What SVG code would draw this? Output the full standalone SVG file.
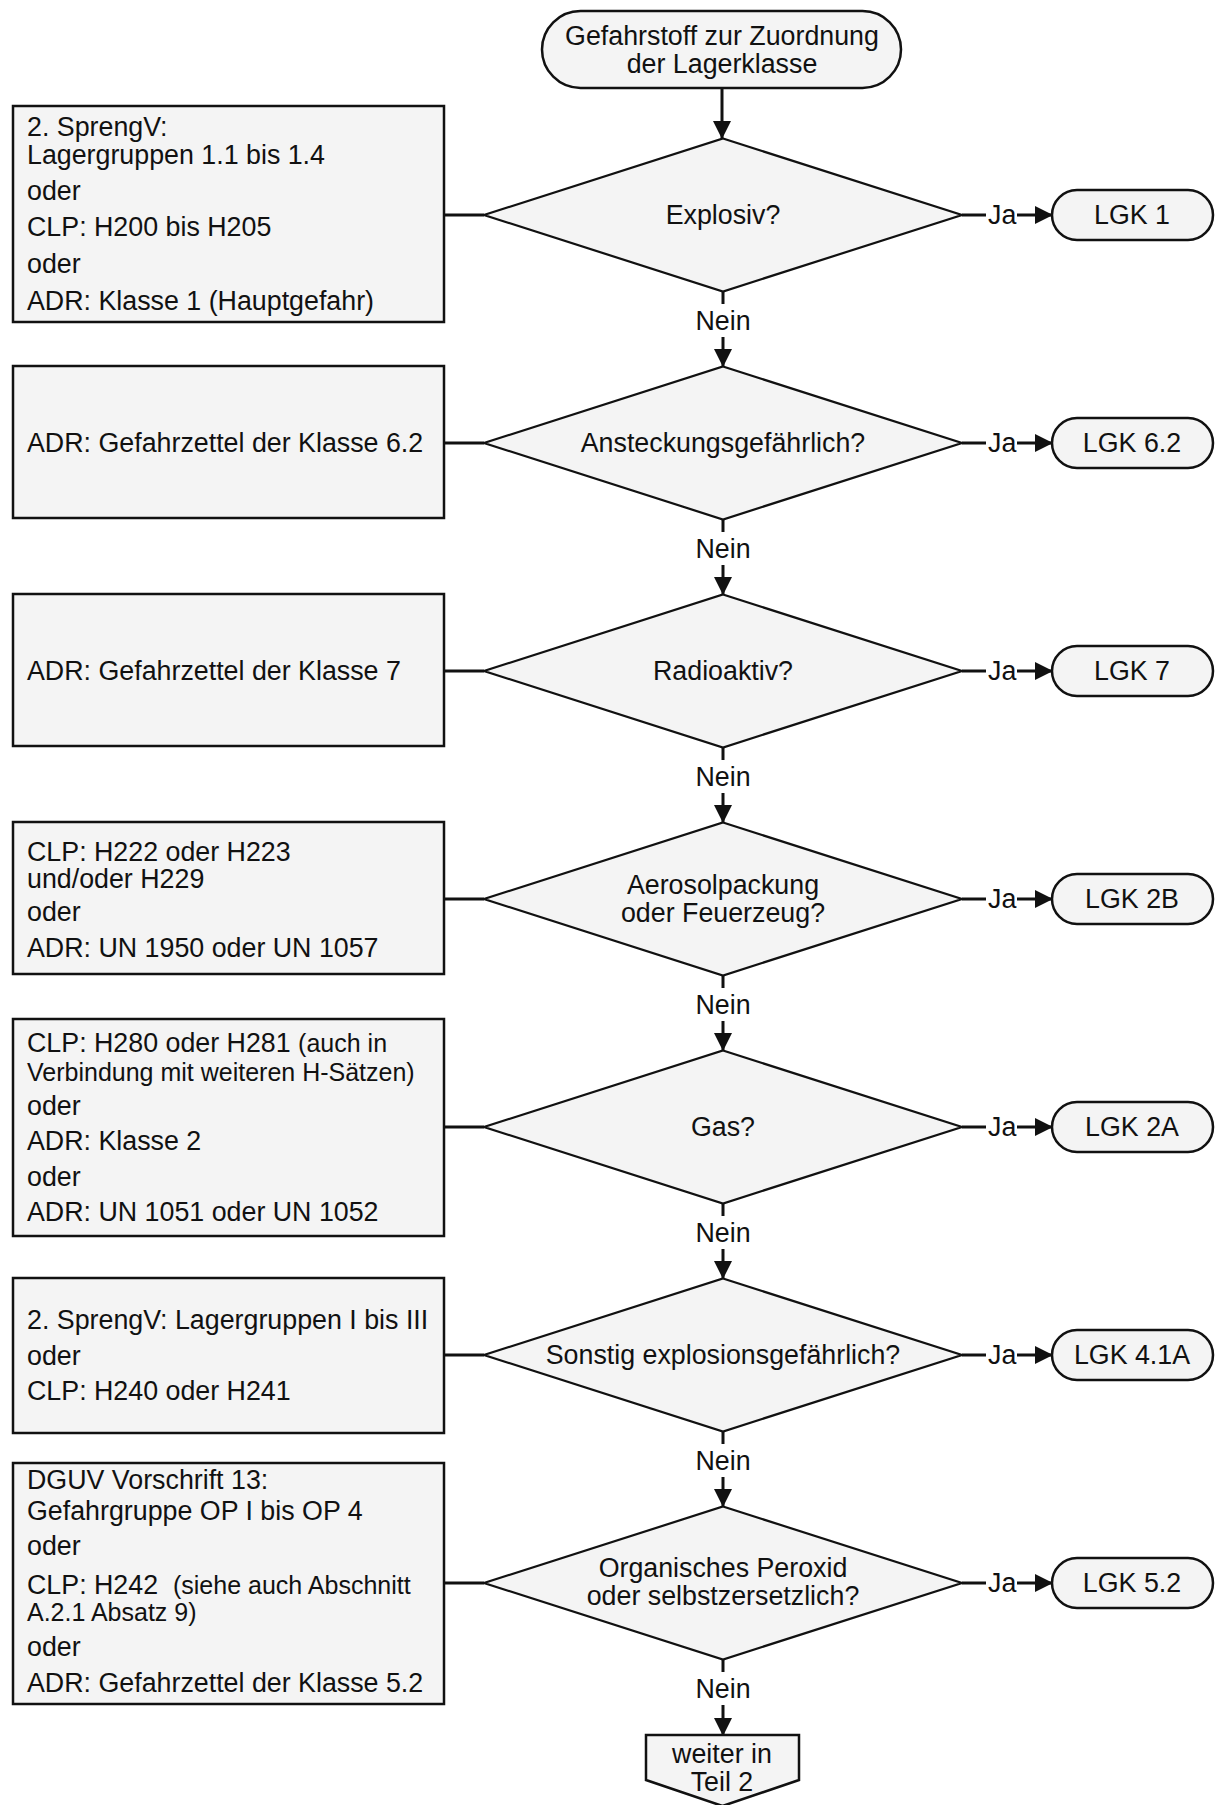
<svg xmlns="http://www.w3.org/2000/svg" width="1215" height="1805" viewBox="0 0 1215 1805">
<style>
text{font-family:"Liberation Sans",Arial,sans-serif;font-size:26.8px;fill:#111}
.s{font-size:25px}
.c{text-anchor:middle}
.box{fill:#f4f4f4;stroke:#111;stroke-width:2.5}
.dia{fill:#f4f4f4;stroke:#111;stroke-width:2.2}
.ln{stroke:#111;stroke-width:3;fill:none}
</style>
<defs>
<marker id="ah" markerUnits="userSpaceOnUse" markerWidth="18" markerHeight="18" viewBox="0 0 18 18" refX="17" refY="9" orient="auto">
<path d="M0,0 L18,9 L0,18 Z" fill="#111"/>
</marker>
</defs>
<rect width="1215" height="1805" fill="#fff"/>

<g id="connectors">
<line class="ln" x1="722" y1="88" x2="722" y2="138" marker-end="url(#ah)"/>
<line class="ln" x1="444" y1="215" x2="484" y2="215"/>
<line class="ln" x1="444" y1="443" x2="484" y2="443"/>
<line class="ln" x1="444" y1="671" x2="484" y2="671"/>
<line class="ln" x1="444" y1="899" x2="484" y2="899"/>
<line class="ln" x1="444" y1="1127" x2="484" y2="1127"/>
<line class="ln" x1="444" y1="1355" x2="484" y2="1355"/>
<line class="ln" x1="444" y1="1583" x2="484" y2="1583"/>
<g>
<line class="ln" x1="962" y1="215" x2="986" y2="215"/><text x="988" y="224">Ja</text><line class="ln" x1="1017" y1="215" x2="1052" y2="215" marker-end="url(#ah)"/>
<line class="ln" x1="962" y1="443" x2="986" y2="443"/><text x="988" y="452">Ja</text><line class="ln" x1="1017" y1="443" x2="1052" y2="443" marker-end="url(#ah)"/>
<line class="ln" x1="962" y1="671" x2="986" y2="671"/><text x="988" y="680">Ja</text><line class="ln" x1="1017" y1="671" x2="1052" y2="671" marker-end="url(#ah)"/>
<line class="ln" x1="962" y1="899" x2="986" y2="899"/><text x="988" y="908">Ja</text><line class="ln" x1="1017" y1="899" x2="1052" y2="899" marker-end="url(#ah)"/>
<line class="ln" x1="962" y1="1127" x2="986" y2="1127"/><text x="988" y="1136">Ja</text><line class="ln" x1="1017" y1="1127" x2="1052" y2="1127" marker-end="url(#ah)"/>
<line class="ln" x1="962" y1="1355" x2="986" y2="1355"/><text x="988" y="1364">Ja</text><line class="ln" x1="1017" y1="1355" x2="1052" y2="1355" marker-end="url(#ah)"/>
<line class="ln" x1="962" y1="1583" x2="986" y2="1583"/><text x="988" y="1592">Ja</text><line class="ln" x1="1017" y1="1583" x2="1052" y2="1583" marker-end="url(#ah)"/>
</g>
<g>
<line class="ln" x1="723" y1="291" x2="723" y2="304"/><text class="c" x="723" y="330">Nein</text><line class="ln" x1="723" y1="337" x2="723" y2="366" marker-end="url(#ah)"/>
<line class="ln" x1="723" y1="519" x2="723" y2="532"/><text class="c" x="723" y="558">Nein</text><line class="ln" x1="723" y1="565" x2="723" y2="594" marker-end="url(#ah)"/>
<line class="ln" x1="723" y1="747" x2="723" y2="760"/><text class="c" x="723" y="786">Nein</text><line class="ln" x1="723" y1="793" x2="723" y2="822" marker-end="url(#ah)"/>
<line class="ln" x1="723" y1="975" x2="723" y2="988"/><text class="c" x="723" y="1014">Nein</text><line class="ln" x1="723" y1="1021" x2="723" y2="1050" marker-end="url(#ah)"/>
<line class="ln" x1="723" y1="1203" x2="723" y2="1216"/><text class="c" x="723" y="1242">Nein</text><line class="ln" x1="723" y1="1249" x2="723" y2="1278" marker-end="url(#ah)"/>
<line class="ln" x1="723" y1="1431" x2="723" y2="1444"/><text class="c" x="723" y="1470">Nein</text><line class="ln" x1="723" y1="1477" x2="723" y2="1506" marker-end="url(#ah)"/>
<line class="ln" x1="723" y1="1659" x2="723" y2="1672"/><text class="c" x="723" y="1698">Nein</text><line class="ln" x1="723" y1="1705" x2="723" y2="1735" marker-end="url(#ah)"/>
</g>
</g>

<g id="start">
<rect class="box" x="542" y="11" width="359" height="77" rx="38.5"/>
<text class="c" x="722" y="45">Gefahrstoff zur Zuordnung</text>
<text class="c" x="722" y="73">der Lagerklasse</text>
</g>

<g id="d1"><polygon class="dia" points="723,138.5 962,215 723,291.5 484,215"/><text class="c" x="723" y="224">Explosiv?</text></g>
<g id="d2"><polygon class="dia" points="723,366.5 962,443 723,519.5 484,443"/><text class="c" x="723" y="452">Ansteckungsgefährlich?</text></g>
<g id="d3"><polygon class="dia" points="723,594.5 962,671 723,747.5 484,671"/><text class="c" x="723" y="680">Radioaktiv?</text></g>
<g id="d4"><polygon class="dia" points="723,822.5 962,899 723,975.5 484,899"/><text class="c" x="723" y="894">Aerosolpackung</text><text class="c" x="723" y="922">oder Feuerzeug?</text></g>
<g id="d5"><polygon class="dia" points="723,1050.5 962,1127 723,1203.5 484,1127"/><text class="c" x="723" y="1136">Gas?</text></g>
<g id="d6"><polygon class="dia" points="723,1278.5 962,1355 723,1431.5 484,1355"/><text class="c" x="723" y="1364">Sonstig explosionsgefährlich?</text></g>
<g id="d7"><polygon class="dia" points="723,1506.5 962,1583 723,1659.5 484,1583"/><text class="c" x="723" y="1577">Organisches Peroxid</text><text class="c" x="723" y="1605">oder selbstzersetzlich?</text></g>

<g id="t1"><rect class="box" x="1052" y="190" width="161" height="50" rx="25"/><text class="c" x="1132" y="224">LGK 1</text></g>
<g id="t2"><rect class="box" x="1052" y="418" width="161" height="50" rx="25"/><text class="c" x="1132" y="452">LGK 6.2</text></g>
<g id="t3"><rect class="box" x="1052" y="646" width="161" height="50" rx="25"/><text class="c" x="1132" y="680">LGK 7</text></g>
<g id="t4"><rect class="box" x="1052" y="874" width="161" height="50" rx="25"/><text class="c" x="1132" y="908">LGK 2B</text></g>
<g id="t5"><rect class="box" x="1052" y="1102" width="161" height="50" rx="25"/><text class="c" x="1132" y="1136">LGK 2A</text></g>
<g id="t6"><rect class="box" x="1052" y="1330" width="161" height="50" rx="25"/><text class="c" x="1132" y="1364">LGK 4.1A</text></g>
<g id="t7"><rect class="box" x="1052" y="1558" width="161" height="50" rx="25"/><text class="c" x="1132" y="1592">LGK 5.2</text></g>

<g id="b1"><rect class="box" x="13" y="106" width="431" height="216"/>
<text x="27" y="136">2. SprengV:</text>
<text x="27" y="164">Lagergruppen 1.1 bis 1.4</text>
<text x="27" y="200">oder</text>
<text x="27" y="236">CLP: H200 bis H205</text>
<text x="27" y="273">oder</text>
<text x="27" y="310">ADR: Klasse 1 (Hauptgefahr)</text>
</g>
<g id="b2"><rect class="box" x="13" y="366" width="431" height="152"/>
<text x="27" y="452">ADR: Gefahrzettel der Klasse 6.2</text>
</g>
<g id="b3"><rect class="box" x="13" y="594" width="431" height="152"/>
<text x="27" y="680">ADR: Gefahrzettel der Klasse 7</text>
</g>
<g id="b4"><rect class="box" x="13" y="822" width="431" height="152"/>
<text x="27" y="861">CLP: H222 oder H223</text>
<text x="27" y="888">und/oder H229</text>
<text x="27" y="921">oder</text>
<text x="27" y="957">ADR: UN 1950 oder UN 1057</text>
</g>
<g id="b5"><rect class="box" x="13" y="1019" width="431" height="217"/>
<text x="27" y="1052">CLP: H280 oder H281 <tspan class="s">(auch in</tspan></text>
<text class="s" x="27" y="1081">Verbindung mit weiteren H-Sätzen)</text>
<text x="27" y="1115">oder</text>
<text x="27" y="1150">ADR: Klasse 2</text>
<text x="27" y="1186">oder</text>
<text x="27" y="1221">ADR: UN 1051 oder UN 1052</text>
</g>
<g id="b6"><rect class="box" x="13" y="1278" width="431" height="155"/>
<text x="27" y="1329">2. SprengV: Lagergruppen I bis III</text>
<text x="27" y="1365">oder</text>
<text x="27" y="1400">CLP: H240 oder H241</text>
</g>
<g id="b7"><rect class="box" x="13" y="1463" width="431" height="241"/>
<text x="27" y="1489">DGUV Vorschrift 13:</text>
<text x="27" y="1520">Gefahrgruppe OP I bis OP 4</text>
<text x="27" y="1555">oder</text>
<text x="27" y="1594" xml:space="preserve">CLP: H242  <tspan class="s">(siehe auch Abschnitt</tspan></text>
<text class="s" x="27" y="1621">A.2.1 Absatz 9)</text>
<text x="27" y="1656">oder</text>
<text x="27" y="1692">ADR: Gefahrzettel der Klasse 5.2</text>
</g>

<g id="end">
<polygon class="box" points="646,1735 799,1735 799,1780 722.5,1806 646,1780"/>
<text class="c" x="722" y="1763">weiter in</text>
<text class="c" x="722" y="1791">Teil 2</text>
</g>
</svg>
